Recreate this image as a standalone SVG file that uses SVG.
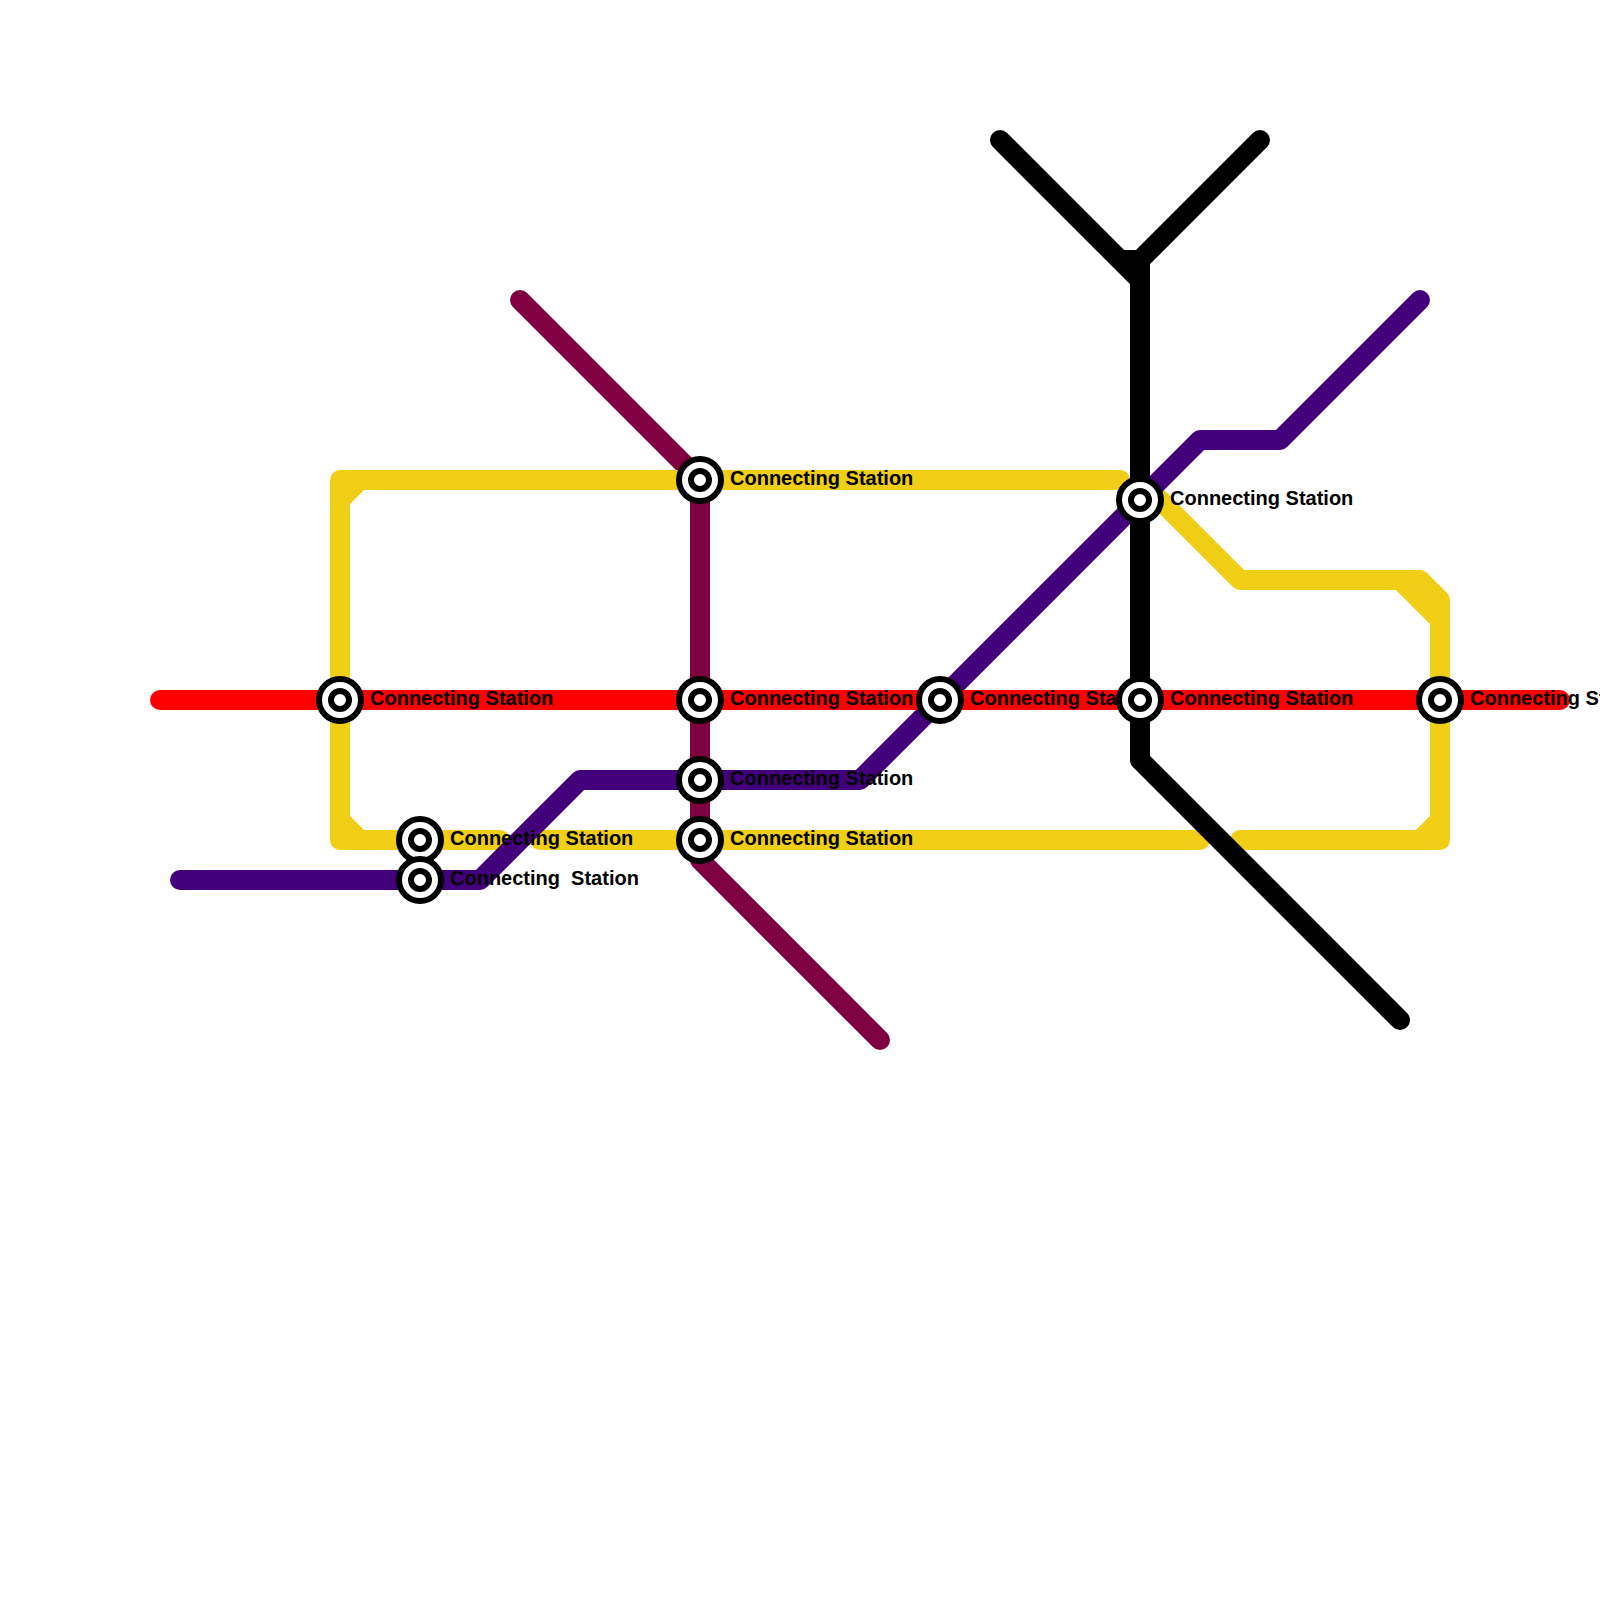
<svg xmlns="http://www.w3.org/2000/svg" width="1600" height="1600" viewBox="0 0 1600 1600">
<style>
.l{fill:none;stroke-width:20;stroke-linecap:round;stroke-linejoin:round}
.maroon{stroke:#7f0040}.yellow{stroke:#f0ce15}.red{stroke:#f00}.purple{stroke:#42007a}.black{stroke:#000}
.o{fill:#fff;stroke:#000;stroke-width:6}
text{font-family:"Liberation Sans",Arial,sans-serif;font-size:20px;font-weight:bold;fill:#000;white-space:pre}
</style>
<defs>
<g id="st"><circle class="o" r="21"/><circle class="o" r="9"/></g>
</defs>
<rect width="1600" height="1600" fill="#fff"/>
<g id="connectors">
<path class="l maroon" d="M520,300L700,480V860L880,1040"/>
<path class="l yellow" d="M1120,480H340V840H500M360,480L340,500M340,820L360,840M540,840H1200M1150,490L1240,580H1420L1440,600V840H1240M1400,580L1440,620M1420,840L1440,820"/>
<path class="l purple" d="M180,880H480L580,780H860L1200,440H1280L1420,300"/>
<path class="l red" d="M160,700H1560"/>
<path class="l black" d="M1000,140L1140,280M1260,140L1140,260H1120M1140,260V760L1400,1020"/>
</g>
<g id="station-1"><use href="#st" x="340" y="700"/><text x="370" y="705">Connecting Station</text></g>
<g id="station-2"><use href="#st" x="700" y="480"/><text x="730" y="485">Connecting Station</text></g>
<g id="station-3"><use href="#st" x="700" y="700"/><text x="730" y="705">Connecting Station</text></g>
<g id="station-4"><use href="#st" x="700" y="780"/><text x="730" y="785">Connecting Station</text></g>
<g id="station-5"><use href="#st" x="700" y="840"/><text x="730" y="845">Connecting Station</text></g>
<g id="station-6"><use href="#st" x="420" y="840"/><text x="450" y="845">Connecting Station</text></g>
<g id="station-7"><use href="#st" x="420" y="880"/><text x="450" y="885" xml:space="preserve">Connecting  Station</text></g>
<g id="station-8"><use href="#st" x="940" y="700"/><text x="970" y="705">Connecting Station</text></g>
<g id="station-9"><use href="#st" x="1140" y="500"/><text x="1170" y="505">Connecting Station</text></g>
<g id="station-10"><use href="#st" x="1140" y="700"/><text x="1170" y="705">Connecting Station</text></g>
<g id="station-11"><use href="#st" x="1440" y="700"/><text x="1470" y="705">Connecting Station</text></g>
</svg>
